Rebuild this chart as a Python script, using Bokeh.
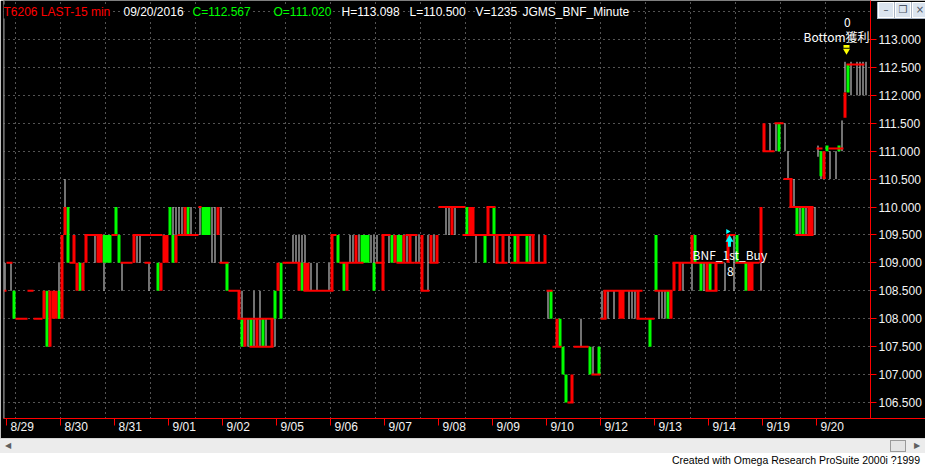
from bokeh.plotting import figure
from bokeh.models import Range1d, FixedTicker, NumeralTickFormatter, LinearAxis, Label, Span, ColumnDataSource, Div
from bokeh.layouts import column
from bokeh.embed import file_html
from bokeh.resources import INLINE
from bokeh.core.properties import value

# ---------------- data (bar index = 15-min bar number, 18 bars per session) ----------------
day_labels = ["8/29", "8/30", "8/31", "9/01", "9/02", "9/05", "9/06", "9/07",
              "9/08", "9/09", "9/10", "9/12", "9/13", "9/14", "9/19", "9/20"]
bars_per_day = 18
price_ticks = [106.5, 107.0, 107.5, 108.0, 108.5, 109.0, 109.5, 110.0,
               110.5, 111.0, 111.5, 112.0, 112.5, 113.0]
grid_prices = price_ticks + [113.5]

# (first bar, end bar, low, high)
green_boxes = [
    (2, 3, 108.0, 108.5), (13, 14, 107.5, 108.5), (17, 18, 108.0, 108.5), (20, 21, 109.0, 110.0),
    (24, 25, 108.5, 109.0), (32, 35, 109.0, 109.5), (36, 37, 109.5, 110.0), (37, 38, 109.0, 109.5),
    (50, 51, 108.5, 109.0), (54, 55, 109.5, 110.0), (55, 56, 109.0, 109.5), (60, 61, 109.5, 110.0),
    (65, 68, 109.5, 110.0), (73, 74, 108.5, 109.0), (78, 79, 107.5, 108.0), (81, 82, 107.5, 108.0),
    (85, 86, 107.5, 108.0), (89, 90, 108.0, 108.5), (91, 92, 108.0, 109.0), (98, 99, 108.5, 109.0),
    (110, 111, 109.0, 109.5), (112, 113, 108.5, 109.0), (118, 121, 109.0, 109.5), (122, 123, 108.5, 109.0),
    (128, 129, 109.0, 109.5), (130, 132, 109.0, 109.5), (153, 154, 109.5, 110.0), (159, 160, 109.0, 109.5),
    (162, 163, 109.5, 110.0), (169, 170, 109.0, 109.5), (173, 174, 109.0, 109.5), (181, 182, 108.0, 108.5),
    (184, 185, 107.5, 108.0), (185, 186, 107.0, 107.5), (186, 187, 106.5, 107.0), (194, 195, 107.0, 107.5),
    (197, 198, 107.0, 107.5), (214, 215, 107.5, 108.0), (216, 217, 108.5, 109.5), (220, 221, 108.0, 108.5),
    (229, 230, 109.0, 109.5), (231, 232, 108.5, 109.0), (234, 235, 108.5, 109.0), (243, 244, 109.0, 109.5),
    (246, 247, 108.5, 109.0), (257, 258, 111.0, 111.5), (263, 264, 109.5, 110.0), (265, 266, 109.5, 110.0),
    (271, 272, 110.55, 111.0), (273, 274, 111.0, 111.1), (277, 278, 111.0, 111.1), (280, 281, 112.05, 112.55),
]
red_boxes = [
    (12, 13, 108.0, 108.5), (14, 15, 107.5, 108.5), (15, 17, 108.0, 108.5), (18, 19, 108.0, 109.5),
    (19, 20, 109.5, 110.0), (22, 23, 109.0, 109.5), (23, 24, 108.5, 109.0), (25, 26, 108.5, 109.0),
    (26, 27, 109.0, 109.5), (30, 32, 109.0, 109.5), (42, 43, 109.0, 109.5), (51, 52, 108.5, 109.0),
    (52, 54, 109.0, 109.5), (56, 57, 109.0, 109.5), (59, 60, 109.5, 110.0), (70, 71, 109.5, 110.0),
    (77, 78, 108.0, 108.5), (79, 80, 107.5, 108.0), (83, 84, 107.5, 108.0), (88, 89, 107.5, 108.0),
    (90, 91, 108.5, 109.0), (97, 98, 108.5, 109.0), (99, 101, 108.5, 109.0), (108, 109, 108.5, 109.5),
    (113, 114, 108.5, 109.0), (116, 117, 109.0, 109.5), (125, 126, 108.5, 109.5), (129, 130, 109.0, 109.5),
    (132, 133, 109.0, 109.5), (134, 135, 109.0, 109.5), (138, 139, 108.5, 109.5), (141, 142, 109.0, 109.5),
    (143, 144, 109.0, 109.5), (148, 149, 109.5, 110.0), (154, 156, 109.5, 110.0), (160, 161, 109.5, 110.0),
    (163, 164, 109.0, 109.5), (165, 166, 109.0, 109.5), (170, 171, 109.0, 109.5), (175, 176, 109.0, 109.5),
    (179, 180, 109.0, 109.5), (183, 184, 107.5, 108.0), (188, 189, 106.5, 107.0), (199, 200, 108.0, 108.5),
    (204, 206, 108.0, 108.5), (210, 211, 108.0, 108.5), (221, 222, 108.0, 108.5), (222, 223, 108.5, 109.0),
    (224, 225, 108.5, 109.0), (228, 229, 109.0, 109.5), (233, 234, 108.5, 109.0), (236, 237, 108.5, 109.0),
    (240, 241, 109.0, 109.5), (247, 249, 108.5, 109.0), (251, 252, 109.0, 110.0), (252, 253, 111.0, 111.5),
    (261, 262, 110.0, 110.5), (267, 269, 109.5, 110.0), (272, 273, 110.5, 111.0), (279, 280, 111.6, 112.05),
]
# (bar, low, high) thin neutral bars
white_bars = [
    (-1, 108.5, 109.0), (1, 108.5, 109.0), (17, 108.5, 109.0), (19, 110.0, 110.5), (29, 109.0, 109.5),
    (32, 108.5, 109.0), (38, 108.5, 109.0), (43, 109.0, 109.5), (44, 109.0, 109.5), (47, 108.5, 109.0),
    (55, 109.5, 110.0), (56, 109.5, 110.0), (57, 109.5, 110.0), (58, 109.5, 110.0), (61, 109.5, 110.0),
    (64, 109.5, 110.0), (68, 109.0, 110.0), (69, 109.0, 110.0), (71, 109.0, 110.0), (78, 108.0, 108.5),
    (80, 107.5, 108.0), (82, 107.5, 108.5), (84, 107.5, 108.5), (86, 107.5, 108.0), (89, 107.5, 108.0),
    (95, 109.0, 109.5), (96, 109.0, 109.5), (97, 109.0, 109.5), (98, 109.0, 109.5), (99, 109.0, 109.5),
    (101, 108.5, 109.0), (103, 108.5, 109.0), (107, 108.5, 109.0), (114, 109.0, 109.5), (115, 109.0, 109.5),
    (117, 109.0, 109.5), (121, 109.0, 109.5), (122, 109.0, 109.5), (123, 109.0, 109.5), (127, 109.0, 109.5),
    (133, 109.0, 109.5), (136, 109.0, 109.5), (137, 109.0, 109.5), (140, 108.5, 109.5), (142, 109.0, 109.5),
    (146, 109.5, 110.0), (147, 109.5, 110.0), (149, 109.5, 110.0), (156, 109.0, 109.5), (162, 109.0, 109.5),
    (167, 109.0, 109.5), (174, 109.0, 109.5), (177, 109.0, 109.5), (180, 108.0, 108.5), (191, 107.5, 108.0),
    (195, 107.0, 107.5), (198, 108.0, 108.5), (200, 108.0, 108.5), (202, 108.0, 108.5), (207, 108.0, 108.5),
    (208, 108.0, 108.5), (209, 108.0, 108.5), (217, 108.0, 108.5), (218, 108.0, 108.5), (219, 108.0, 108.5),
    (225, 108.5, 109.0), (228, 108.5, 109.0), (232, 108.5, 109.0), (239, 108.5, 109.0), (242, 108.5, 109.5),
    (251, 108.5, 109.0), (254, 111.0, 111.5), (256, 111.0, 111.5), (259, 111.0, 111.5), (260, 110.5, 111.0),
    (262, 110.0, 110.5), (264, 109.5, 110.0), (266, 109.5, 110.0), (269, 109.5, 110.0), (270, 110.9, 111.1),
    (271, 110.5, 111.0), (274, 110.5, 111.0), (276, 110.5, 111.0), (278, 111.0, 111.55), (279, 112.05, 112.6),
    (281, 112.0, 112.6), (283, 112.0, 112.6), (284, 112.0, 112.6), (285, 112.0, 112.6), (286, 112.0, 112.6),
]
# (first bar, end bar, level) red level lines
red_steps = [
    (-1, 0, 108.5), (0, 2, 109.0), (3, 7, 108.0), (7, 9, 108.5), (9, 12, 108.0), (21, 23, 109.0),
    (26, 32, 109.5), (35, 37, 109.5), (38, 42, 109.0), (42, 48, 109.5), (46, 48, 109.0), (48, 52, 109.5),
    (57, 64, 109.5), (64, 65, 110.0), (71, 74, 109.0), (74, 78, 108.5), (77, 89, 108.0), (81, 89, 107.5),
    (92, 98, 109.0), (99, 109, 108.5), (108, 110, 109.5), (111, 119, 109.0), (123, 126, 109.0),
    (125, 128, 109.5), (130, 136, 109.0), (133, 137, 109.5), (136, 138, 109.0), (138, 141, 108.5),
    (141, 144, 109.0), (144, 153, 110.0), (152, 176, 109.5), (160, 163, 110.0), (163, 167, 109.0),
    (168, 176, 109.0), (174, 180, 109.0), (180, 182, 108.5), (182, 185, 107.5), (187, 189, 106.5),
    (189, 194, 107.5), (195, 198, 107.0), (198, 200, 108.0), (199, 212, 108.5), (210, 216, 108.0),
    (216, 222, 108.5), (222, 239, 109.0), (233, 237, 108.5), (240, 243, 109.5), (243, 251, 109.0),
    (252, 256, 111.0), (256, 259, 111.5), (259, 262, 110.5), (261, 269, 110.0), (263, 269, 109.5),
    (270, 272, 111.05), (274, 279, 111.05), (280, 286, 112.55),
]
signal_text = ["BNF_1st_Buy", "8", "0", "Bottom獲利出場"]
signal_x = [228.7, 241.3, 280.3, 265.7]
signal_y = [109.15, 108.85, 113.30, 113.05]
signal_align = ["left", "center", "center", "left"]
buy_bar, buy_price = 241.0, 109.42
exit_bar, exit_price = 280.0, 112.80

header_items = ["T6206 LAST-15 min", "09/20/2016", "C=112.567", "O=111.020",
                "H=113.098", "L=110.500", "V=1235", "JGMS_BNF_Minute"]
header_colors = ["#ff0000", "#ffffff", "#00ff00", "#00ff00",
                 "#ffffff", "#ffffff", "#ffffff", "#ffffff"]
header_x = [0, 120, 189, 270, 338, 406, 472, 519]
header_price = 113.5
footer_text = "Created with Omega Research ProSuite 2000i ?1999"

FONT = "Liberation Sans"
RED, GREEN, WHITE = "#ff0000", "#00ff00", "#e4e4e4"

p = figure(width=925, height=438, x_range=Range1d(-1, 288), y_range=Range1d(106.213, 113.698),
           output_backend="svg", toolbar_location=None, x_axis_location=None, y_axis_location=None,
           background_fill_color="black", border_fill_color="black", outline_line_color=None,
           min_border_left=3, min_border_right=55, min_border_top=0, min_border_bottom=20)

p.xgrid.ticker = FixedTicker(ticks=list(range(3, 288, 15)))
p.ygrid.ticker = FixedTicker(ticks=grid_prices)
for g in (p.xgrid, p.ygrid):
    g.grid_line_color = "#a8a8a8"
    g.grid_line_dash = "1 4"
    g.grid_line_width = 1

p.add_layout(Span(location=-1, dimension="height", line_color="#9a9a9a", line_width=2))

wsrc = ColumnDataSource(dict(x=[b[0] + 0.5 for b in white_bars],
                             lo=[b[1] for b in white_bars], hi=[b[2] for b in white_bars]))
p.segment(x0="x", y0="lo", x1="x", y1="hi", source=wsrc, line_color=WHITE, line_width=1)

for boxes, col in ((green_boxes, GREEN), (red_boxes, RED)):
    src = ColumnDataSource(dict(l=[b[0] for b in boxes], r=[b[1] for b in boxes],
                                b=[b[2] for b in boxes], t=[b[3] for b in boxes]))
    p.quad(left="l", right="r", bottom="b", top="t", source=src, fill_color=col, line_color=None)

ssrc = ColumnDataSource(dict(x0=[s[0] for s in red_steps], x1=[s[1] for s in red_steps],
                             y=[s[2] for s in red_steps]))
p.segment(x0="x0", y0="y", x1="x1", y1="y", source=ssrc, line_color=RED, line_width=2)

# signal markers
p.segment(x0=[buy_bar], y0=[buy_price - 0.13], x1=[buy_bar], y1=[buy_price - 0.02],
          line_color="#00ffff", line_width=3)
p.scatter(x=[buy_bar], y=[buy_price], marker="triangle", size=8, fill_color="#00ffff", line_color=None)
p.scatter(x=[buy_bar - 0.6], y=[buy_price + 0.14], marker="triangle", angle=-1.5708, size=5,
          fill_color="#00ffff", line_color=None)
p.quad(left=[exit_bar - 1], right=[exit_bar + 1], bottom=[exit_price + 0.05], top=[exit_price + 0.1],
       fill_color="#ffff00", line_color=None)
p.scatter(x=[exit_bar], y=[exit_price], marker="inverted_triangle", size=7,
          fill_color="#ffff00", line_color=None)

tsrc = ColumnDataSource(dict(x=signal_x, y=signal_y, t=signal_text, a=signal_align))
p.text(x="x", y="y", text="t", text_align="a", source=tsrc, text_baseline="middle",
       text_color="#ffffff", text_font=value("Noto Sans CJK TC"), text_font_size="12px")

for txt, col, hx in zip(header_items, header_colors, header_x):
    p.add_layout(Label(x=hx, y=header_price, x_units="screen", y_units="data", text=txt, text_color=col,
                       text_font=FONT, text_font_size="12px", text_baseline="middle",
                       background_fill_color="black"))

xaxis = LinearAxis(ticker=FixedTicker(ticks=[bars_per_day * k + 5.25 for k in range(len(day_labels))],
                                      minor_ticks=[bars_per_day * k for k in range(len(day_labels))]),
                   major_label_overrides={bars_per_day * k + 5.25: lab for k, lab in enumerate(day_labels)})
xaxis.axis_line_color = RED
xaxis.major_tick_out = 0
xaxis.major_tick_in = 0
xaxis.minor_tick_out = 7
xaxis.minor_tick_in = 0
xaxis.minor_tick_line_color = RED
xaxis.major_label_standoff = -6
xaxis.major_label_text_color = "#f4f4f4"
xaxis.major_label_text_font = FONT
xaxis.major_label_text_font_size = "12px"
p.add_layout(xaxis, "below")

yaxis = LinearAxis(ticker=FixedTicker(ticks=price_ticks), formatter=NumeralTickFormatter(format="0.000"))
yaxis.axis_line_color = RED
yaxis.major_tick_line_color = RED
yaxis.major_tick_out = 6
yaxis.major_tick_in = 0
yaxis.minor_tick_out = 0
yaxis.minor_tick_in = 0
yaxis.major_label_standoff = 2
yaxis.major_label_text_color = "#f4f4f4"
yaxis.major_label_text_font = FONT
yaxis.major_label_text_font_size = "12px"
p.add_layout(yaxis, "right")

# scrollbar + footer strip (with the window buttons drawn back up in the top-right corner)
btn = ('position:absolute;top:0;width:16px;height:16px;box-sizing:border-box;border:1px solid #ffffff;'
       'outline:1px solid #a9b4c4;background:#dbe4ef;color:#4b5566;font-family:\'DejaVu Sans\';'
       'font-size:10px;line-height:14px;text-align:center;')
footer = Div(width=925, height=30, margin=0, text=(
    '<div style="position:relative;width:925px;height:15px;background:#ececec;'
    'border-top:1px solid #d4d4d4;box-sizing:border-box;">'
    '<div style="position:absolute;left:870px;top:-21px;width:55px;height:1px;background:#ff0000;"></div>'
    '<div style="position:absolute;left:877px;top:-437px;width:48px;height:17px;overflow:hidden;">'
    '<div style="' + btn + 'left:1px;">&#8211;</div>'
    '<div style="' + btn + 'left:18px;">&#10064;</div>'
    '<div style="' + btn + 'left:35px;">&#215;</div>'
    '</div>'
    '<span style="position:absolute;left:5px;top:1px;font-size:8px;color:#606060;">&#9664;</span>'
    '<div style="position:absolute;left:890px;top:1px;width:16px;height:12px;background:#e4e4e4;'
    'border:1px solid #9a9a9a;box-sizing:border-box;"></div>'
    '<span style="position:absolute;left:914px;top:1px;font-size:8px;color:#606060;">&#9654;</span>'
    '</div>'
    '<div style="width:925px;height:15px;text-align:right;box-sizing:border-box;padding-right:5px;'
    'font-family:\'Liberation Sans\';font-size:10.5px;line-height:15px;color:black;background:white;">'
    + footer_text + '</div>'))

layout = column(p, footer, spacing=0)
open("out.html", "w").write(file_html(layout, INLINE))
